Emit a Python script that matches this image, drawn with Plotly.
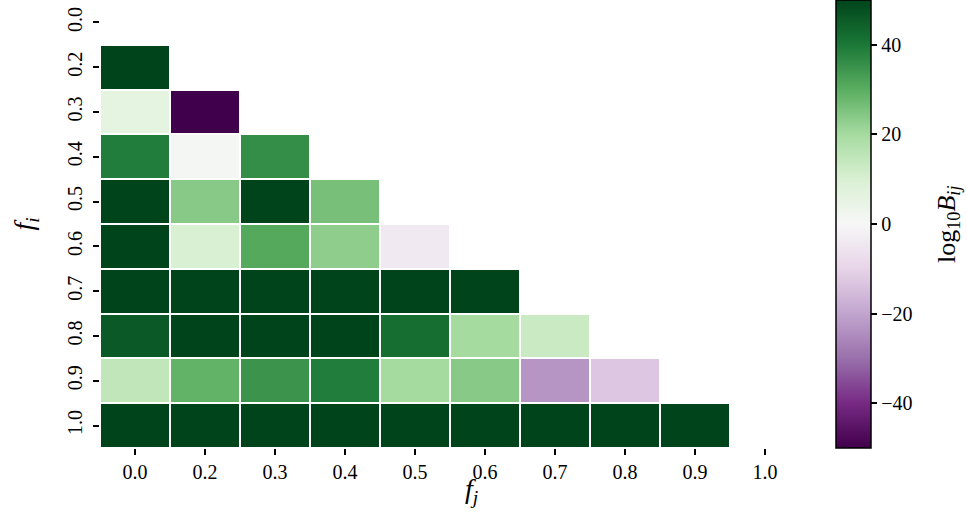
import plotly.graph_objects as go

# Frequency labels along both axes
freq_labels = ["0.0", "0.2", "0.3", "0.4", "0.5", "0.6", "0.7", "0.8", "0.9", "1.0"]

# log10 Bayes factors, lower triangle (row i, columns j < i); None = masked
row_00 = [None] * 10
row_02 = [50, None, None, None, None, None, None, None, None, None]
row_03 = [6, -50, None, None, None, None, None, None, None, None]
row_04 = [39, 1, 36, None, None, None, None, None, None, None]
row_05 = [50, 24, 50, 26, None, None, None, None, None, None]
row_06 = [50, 10, 31, 23, -4, None, None, None, None, None]
row_07 = [50, 50, 50, 50, 50, 50, None, None, None, None]
row_08 = [46, 50, 50, 50, 42, 20, 13, None, None, None]
row_09 = [15, 29, 35, 39, 20, 24, -23, -13, None, None]
row_10 = [50, 50, 50, 50, 50, 50, 50, 50, 50, None]

z_rows = [row_00, row_02, row_03, row_04, row_05, row_06, row_07, row_08, row_09, row_10]

# PRGn diverging colormap
prgn = ["#40004b", "#762a83", "#9970ab", "#c2a5cf", "#e7d4e8", "#f7f7f7",
        "#d9f0d3", "#a6dba0", "#5aae61", "#1b7837", "#00441b"]
colorscale = [[k / 10, c] for k, c in enumerate(prgn)]

serif = "'Liberation Serif', 'Times New Roman', Times, serif"

fig = go.Figure(go.Heatmap(
    z=z_rows,
    x=freq_labels,
    y=freq_labels,
    colorscale=colorscale,
    zmin=-50, zmax=50,
    xgap=2, ygap=2,
    hoverongaps=False,
    colorbar=dict(
        x=1.0514, xanchor="left", xref="paper", xpad=0, ypad=0,
        y=0.5, yanchor="middle", len=1.0, lenmode="fraction",
        thickness=35,
        outlinewidth=1.5, outlinecolor="black",
        ticks="outside", ticklen=6, tickwidth=1.5, tickcolor="black",
        tickvals=[-40, -20, 0, 20, 40],
        tickfont=dict(family=serif, size=20, color="black"),
    ),
))

fig.update_layout(
    width=966, height=512,
    margin=dict(l=100, r=166, t=0, b=64),
    paper_bgcolor="white", plot_bgcolor="white",
    font=dict(family=serif, color="black"),
    annotations=[
        dict(
            text="log<sub>10</sub><i>B</i><sub><i>ij</i></sub>",
            x=1.2114, y=0.5, xref="paper", yref="paper",
            xanchor="center", yanchor="middle", textangle=-90, showarrow=False,
            font=dict(family=serif, size=26, color="black"),
        ),
        dict(
            text="<i>f</i><sub><i>j</i></sub>",
            x=0.53, y=-0.095, xref="paper", yref="paper",
            xanchor="center", yanchor="middle", showarrow=False,
            font=dict(family=serif, size=28, color="black"),
        ),
    ],
)

fig.update_xaxes(
    type="category", categoryorder="array", categoryarray=freq_labels,
    range=[-0.5, 9.5], showgrid=False, zeroline=False, showline=False,
    ticks="outside", ticklen=6, tickwidth=1.5, tickcolor="black",
    tickfont=dict(family=serif, size=20, color="black"),
)
fig.update_yaxes(
    type="category", categoryorder="array", categoryarray=freq_labels,
    range=[9.5, -0.5], showgrid=False, zeroline=False, showline=False,
    ticks="outside", ticklen=6, tickwidth=1.5, tickcolor="black",
    tickangle=-90, ticklabelstandoff=3,
    tickfont=dict(family=serif, size=20, color="black"),
    title=dict(text="<i>f</i><sub><i>i</i></sub>", standoff=22,
               font=dict(family=serif, size=28, color="black")),
)

fig.write_html("out.html")
